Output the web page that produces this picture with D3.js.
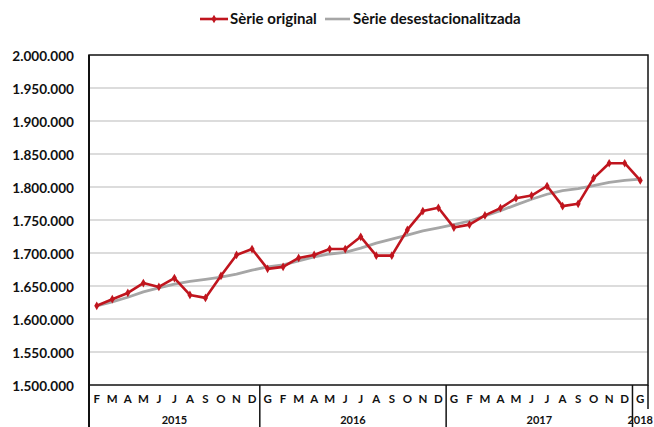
<!DOCTYPE html>
<html><head><meta charset="utf-8">
<script src="https://cdn.jsdelivr.net/npm/d3@7"></script>
<style>
body{margin:0;background:#fff;}
svg{display:block;font-family:Lato,"Open Sans",sans-serif;font-weight:bold;}
</style></head>
<body><svg id="c" width="654" height="427"></svg>
<script>
const months = ["F","M","A","M","J","J","A","S","O","N","D",
  "G","F","M","A","M","J","J","A","S","O","N","D",
  "G","F","M","A","M","J","J","A","S","O","N","D",
  "G"];
const years = [{label:"2015",count:11},{label:"2016",count:12},{label:"2017",count:12},{label:"2018",count:1}];
const original = [1620000,1630000,1639500,1654500,1648500,1662000,1636500,1632000,1665500,1697000,1706000,
  1676000,1679000,1692500,1697000,1706000,1706000,1724500,1696000,1696000,1735000,1763500,1768500,
  1738500,1743000,1757000,1768000,1783000,1787000,1801500,1771000,1774500,1813500,1836000,1836000,
  1810000];
const adjusted = [1620000,1626000,1633000,1641000,1647000,1653000,1657000,1660000,1663500,1668000,1674000,
  1679000,1682000,1688000,1694000,1698500,1701000,1707500,1715000,1721000,1727000,1733500,1738000,
  1743000,1748500,1756000,1764000,1773000,1781500,1789000,1794500,1797500,1802000,1807000,1810000,
  1812000];
const yTicks = [1500000,1550000,1600000,1650000,1700000,1750000,1800000,1850000,1900000,1950000,2000000];
const seriesNames = ["Sèrie original","Sèrie desestacionalitzada"];
const colors = ["#c0151e","#a6a6a6"];

const svg = d3.select("#c");
const L=89,R=648,T=55,B=385;
const idx = d3.range(months.length);
const x = d3.scaleBand().domain(idx).range([L,R]);
const y = d3.scaleLinear().domain([1500000,2000000]).range([B,T]);
const fmt = v => d3.format(",")(v).replace(/,/g,".");

// gridlines
svg.append("g").selectAll("line").data(yTicks.slice(1,-1)).join("line")
  .attr("x1",L).attr("x2",R).attr("y1",d=>y(d)).attr("y2",d=>y(d))
  .attr("stroke","#d0d0d0").attr("stroke-width",1.3);

// y axis labels
const ya = svg.append("g").attr("transform",`translate(${L},0)`)
  .call(d3.axisLeft(y).tickValues(yTicks).tickFormat(fmt).tickSize(0).tickPadding(15));
ya.select(".domain").remove();
ya.selectAll("text").attr("font-size",13.6).attr("font-family","Lato,sans-serif").attr("font-weight","bold").attr("fill","#111").attr("dy","0.4em");

// frame
svg.append("rect").attr("x",L).attr("y",T).attr("width",R-L).attr("height",B-T)
  .attr("fill","none").attr("stroke","#111").attr("stroke-width",1.5);
svg.append("line").attr("x1",L).attr("x2",L).attr("y1",T).attr("y2",427).attr("stroke","#111").attr("stroke-width",2);

// x axis month labels
const xa = svg.append("g").attr("transform",`translate(0,${B})`)
  .call(d3.axisBottom(x).tickFormat(i=>months[i]).tickSize(0).tickPadding(10));
xa.select(".domain").remove();
xa.selectAll("text").attr("font-size",11.5).attr("font-family","Lato,sans-serif").attr("font-weight","bold").attr("fill","#111");

// year separators and labels
let start=0;
years.forEach((yr,k)=>{
  const x0 = x(start), x1 = x(start+yr.count-1)+x.bandwidth();
  svg.append("line").attr("x1",x1).attr("x2",x1).attr("y1",B)
    .attr("y2",k<years.length-1?427:409).attr("stroke","#111").attr("stroke-width",1.5);
  svg.append("text").attr("x",(x0+x1)/2).attr("y",423.5).attr("text-anchor","middle")
    .attr("font-size",11).attr("fill","#111").text(yr.label);
  start+=yr.count;
});

// lines
const cx = i => x(i)+x.bandwidth()/2;
const line = d3.line().x((d,i)=>cx(i)).y(d=>y(d));
svg.append("path").datum(adjusted).attr("d",line).attr("fill","none")
  .attr("stroke",colors[1]).attr("stroke-width",2.8).attr("stroke-linejoin","round");
svg.append("path").datum(original).attr("d",line).attr("fill","none")
  .attr("stroke",colors[0]).attr("stroke-width",2.6).attr("stroke-linejoin","round");
const diamond = d3.symbol().type(d3.symbolDiamond).size(22);
svg.append("g").selectAll("path").data(original).join("path")
  .attr("transform",(d,i)=>`translate(${cx(i)},${y(d)})`).attr("d",diamond).attr("fill",colors[0]);

// legend
const lg = svg.append("g").attr("transform","translate(0,19)");
lg.append("line").attr("x1",200).attr("x2",228).attr("y1",0).attr("y2",0).attr("stroke",colors[0]).attr("stroke-width",2.6);
lg.append("path").attr("transform","translate(214,0)").attr("d",diamond).attr("fill",colors[0]);
lg.append("text").attr("x",230).attr("y",5.2).attr("font-size",15).attr("fill","#111").text(seriesNames[0]);
lg.append("line").attr("x1",325).attr("x2",350).attr("y1",0).attr("y2",0).attr("stroke",colors[1]).attr("stroke-width",2.6);
lg.append("text").attr("x",353).attr("y",5.2).attr("font-size",15).attr("fill","#111").text(seriesNames[1]);
</script></body></html>
